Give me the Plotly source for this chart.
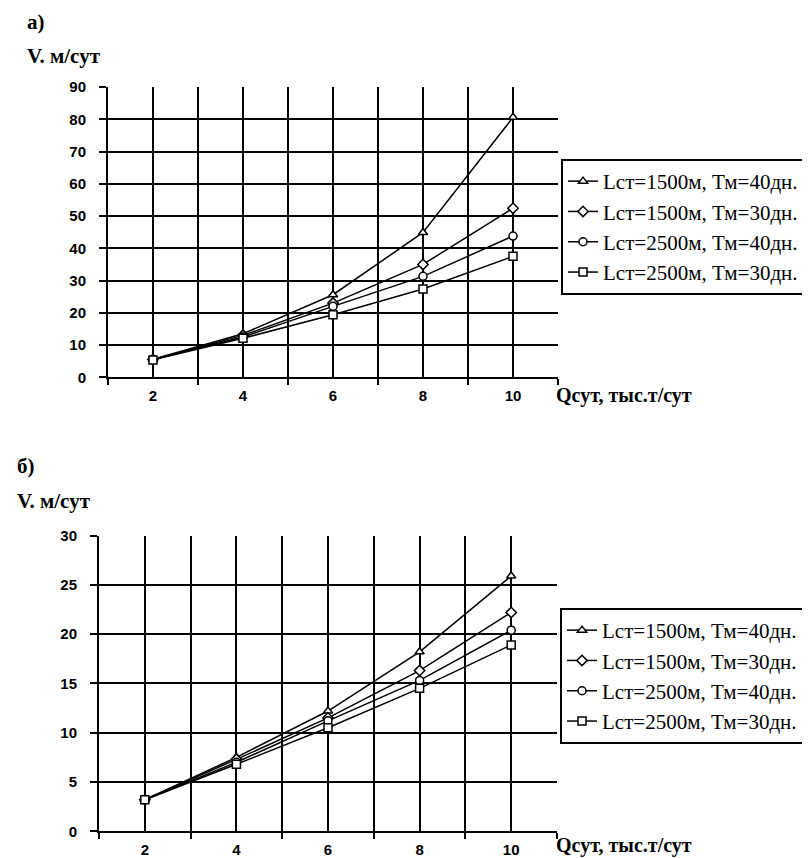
import plotly.graph_objects as go

W, H = 810, 858

# ---- data ----
q_values = [2, 4, 6, 8, 10]
series_names = [
    "Lст=1500м, Тм=40дн.",
    "Lст=1500м, Тм=30дн.",
    "Lст=2500м, Тм=40дн.",
    "Lст=2500м, Тм=30дн.",
]
series_symbols = ["triangle-up", "diamond", "circle", "square"]

# chart а)
a_l1500_t40 = [5.6, 13.5, 25.6, 44.9, 80.6]
a_l1500_t30 = [5.5, 13.0, 23.0, 35.0, 52.4]
a_l2500_t40 = [5.5, 12.5, 22.0, 31.3, 43.8]
a_l2500_t30 = [5.4, 12.1, 19.4, 27.4, 37.5]

# chart б)
b_l1500_t40 = [3.2, 7.5, 12.2, 18.2, 25.9]
b_l1500_t30 = [3.2, 7.3, 11.5, 16.3, 22.2]
b_l2500_t40 = [3.2, 7.0, 11.2, 15.3, 20.4]
b_l2500_t30 = [3.2, 6.8, 10.5, 14.5, 18.9]

a_series = [a_l1500_t40, a_l1500_t30, a_l2500_t40, a_l2500_t30]
b_series = [b_l1500_t40, b_l1500_t30, b_l2500_t40, b_l2500_t30]

x_tick_vals = [2, 4, 6, 8, 10]
x_tick_text = ["2", "4", "6", "8", "10"]
a_y_ticks = [0, 10, 20, 30, 40, 50, 60, 70, 80, 90]
b_y_ticks = [0, 5, 10, 15, 20, 25, 30]

panel_a_label = "а)"
panel_b_label = "б)"
y_title = "V. м/сут"
x_title = "Qсут, тыс.т/сут"


def px(x):
    return x / W


def py(y):
    return 1 - y / H


fig = go.Figure()

for name, sym, ys in zip(series_names, series_symbols, a_series):
    fig.add_trace(go.Scatter(
        x=q_values, y=ys, name=name, mode="lines+markers",
        line=dict(color="black", width=1.5),
        marker=dict(symbol=sym, size=8, color="white",
                    line=dict(color="black", width=1.5)),
        xaxis="x", yaxis="y", legend="legend",
    ))

for name, sym, ys in zip(series_names, series_symbols, b_series):
    fig.add_trace(go.Scatter(
        x=q_values, y=ys, name=name, mode="lines+markers",
        line=dict(color="black", width=1.5),
        marker=dict(symbol=sym, size=8, color="white",
                    line=dict(color="black", width=1.5)),
        xaxis="x2", yaxis="y2", legend="legend2",
    ))

tick_font = dict(family="Liberation Sans", size=15, color="black", weight="bold")
legend_font = dict(family="Liberation Serif", size=21, color="black")


def xaxis_cfg(domain, anchor):
    return dict(
        domain=domain, anchor=anchor, range=[1, 11],
        tickmode="array", tickvals=x_tick_vals, ticktext=x_tick_text,
        ticks="", showgrid=True, gridcolor="black", gridwidth=2,
        showline=True, linecolor="black", linewidth=2,
        zeroline=False, tickfont=tick_font, ticklabelstandoff=4,
        minor=dict(tickmode="array", tickvals=[1, 3, 5, 7, 9, 11],
                   ticks="outside", ticklen=6, tickwidth=2,
                   tickcolor="black", showgrid=True,
                   gridcolor="black", gridwidth=2),
    )


def yaxis_cfg(domain, anchor, rng, vals):
    return dict(
        domain=domain, anchor=anchor, range=rng,
        tickmode="array", tickvals=vals,
        ticks="outside", ticklen=7, tickwidth=2, tickcolor="black",
        showgrid=True, gridcolor="black", gridwidth=2,
        showline=True, linecolor="black", linewidth=2,
        zeroline=False, tickfont=tick_font, ticklabelstandoff=10,
    )


fig.update_layout(
    width=W, height=H,
    margin=dict(l=0, r=0, t=0, b=0, autoexpand=False),
    paper_bgcolor="white", plot_bgcolor="white",
    xaxis=xaxis_cfg([px(100), px(550)], "y"),
    yaxis=yaxis_cfg([py(369.3), py(79)], "x", [0, 90], a_y_ticks),
    xaxis2=xaxis_cfg([px(91), px(549)], "y2"),
    yaxis2=yaxis_cfg([py(823.3), py(527.5)], "x2", [0, 30], b_y_ticks),
    legend=dict(x=px(553), y=py(151), xanchor="left", yanchor="top",
                bordercolor="black", borderwidth=2, bgcolor="white",
                font=legend_font, itemwidth=30, tracegroupgap=0),
    legend2=dict(x=px(552), y=py(600), xanchor="left", yanchor="top",
                 bordercolor="black", borderwidth=2, bgcolor="white",
                 font=legend_font, itemwidth=30, tracegroupgap=0),
    showlegend=True,
)

annotations = [
    (panel_a_label, 17, 14), (y_title, 17, 48),
    (panel_b_label, 7, 458), (y_title, 7, 493),
]
for text, x, y in annotations:
    fig.add_annotation(text=text, x=px(x), y=py(y), xref="paper", yref="paper",
                       xanchor="left", yanchor="middle", showarrow=False,
                       font=dict(family="Liberation Serif", size=21,
                                 color="black", weight="bold"))

for y in (387, 837):
    fig.add_annotation(text=x_title, x=px(546), y=py(y), xref="paper", yref="paper",
                       xanchor="left", yanchor="middle", showarrow=False,
                       font=dict(family="Liberation Serif", size=20,
                                 color="black", weight="bold"))

fig.write_html("out.html")
